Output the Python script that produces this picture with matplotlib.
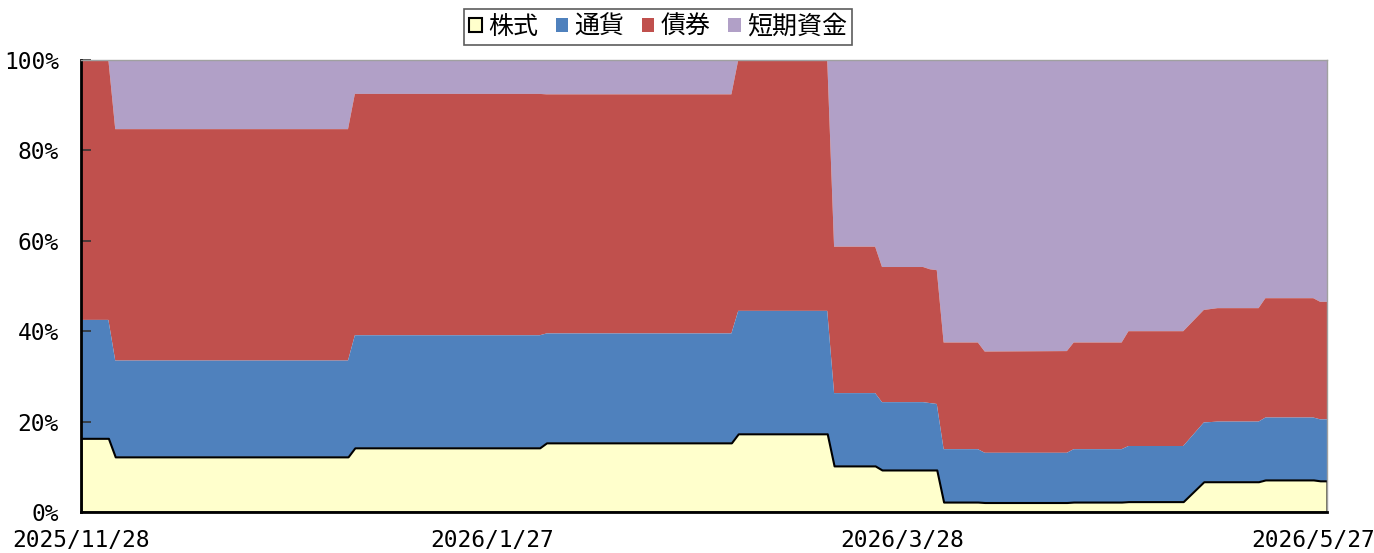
import matplotlib
matplotlib.use("Agg")
import matplotlib.pyplot as plt
from matplotlib.patches import Patch
import numpy as np

plt.rcParams['font.family'] = ['Noto Sans CJK JP', 'DejaVu Sans']

dates = ["2025-11-28", "2025-12-02", "2025-12-03", "2026-01-06", "2026-01-07",
         "2026-02-03", "2026-02-04", "2026-03-03", "2026-03-04", "2026-03-17",
         "2026-03-18", "2026-03-24", "2026-03-25", "2026-03-31", "2026-04-01",
         "2026-04-02", "2026-04-03", "2026-04-08", "2026-04-09", "2026-04-21",
         "2026-04-22", "2026-04-29", "2026-04-30", "2026-05-08", "2026-05-11",
         "2026-05-13", "2026-05-19", "2026-05-20", "2026-05-27", "2026-05-28",
         "2026-05-29"]

stock = [16.3, 16.3, 12.2, 12.2, 14.2, 14.2, 15.3, 15.3, 17.3, 17.3,
         10.2, 10.2, 9.3, 9.3, 9.3, 9.3, 2.2, 2.2, 2.1, 2.1,
         2.2, 2.2, 2.3, 2.3, 6.7, 6.7, 6.7, 7.1, 7.1, 6.9, 6.9]
currency = [26.2, 26.2, 21.3, 21.3, 24.9, 24.9, 24.2, 24.2, 27.2, 27.2,
            16.1, 16.1, 15.0, 15.0, 14.8, 14.6, 11.7, 11.7, 11.0, 11.0,
            11.7, 11.7, 12.3, 12.3, 13.1, 13.3, 13.3, 13.8, 13.8, 13.6, 13.6]
bond = [57.5, 57.5, 51.2, 51.2, 53.4, 53.4, 52.9, 52.9, 55.5, 55.5,
        32.4, 32.4, 29.9, 29.9, 29.6, 29.6, 23.6, 23.6, 22.4, 22.5,
        23.6, 23.6, 25.4, 25.4, 24.9, 25.1, 25.1, 26.4, 26.4, 26.0, 26.0]
cash = [0.0, 0.0, 15.3, 15.3, 7.5, 7.5, 7.6, 7.6, 0.0, 0.0,
        41.3, 41.3, 45.8, 45.8, 46.3, 46.5, 62.5, 62.5, 64.5, 64.4,
        62.5, 62.5, 60.0, 60.0, 55.3, 54.9, 54.9, 52.7, 52.7, 53.5, 53.5]

labels = ["株式", "通貨", "債券", "短期資金"]
colors = ["#FFFFCC", "#4F81BD", "#C0504D", "#B1A0C7"]
tick_dates = ["2025-11-28", "2026-01-27", "2026-03-28", "2026-05-27"]
tick_labels = ["2025/11/28", "2026/1/27", "2026/3/28", "2026/5/27"]

x = np.array(dates, dtype="datetime64[D]")
series = [np.array(stock), np.array(currency), np.array(bond), np.array(cash)]

fig = plt.figure(figsize=(13.74, 5.53), dpi=100)
ax = fig.add_axes([81/1374, 1-512/553, (1327-81)/1374, (512-60)/553])

base = np.zeros(len(x))
tops = []
for s in series:
    tops.append(base + s)
    base = base + s
bottoms = [np.zeros(len(x))] + tops[:-1]
for i in [3, 2, 1]:
    ax.fill_between(x, bottoms[i], tops[i], facecolor=colors[i], edgecolor='none',
                    linewidth=0, zorder=1)
ax.fill_between(x, bottoms[0], tops[0], facecolor=colors[0], edgecolor='black',
                linewidth=1.5, zorder=2)

ax.set_xlim(x[0], x[-1])
ax.set_ylim(0, 100)
tick_font = dict(family=['DejaVu Sans Mono'], size=16.5)
ax.set_yticks([0, 20, 40, 60, 80, 100])
ax.set_yticklabels([f"{v}%" for v in [0, 20, 40, 60, 80, 100]], fontdict=tick_font)
ax.set_xticks(np.array(tick_dates, dtype="datetime64[D]"))
ax.set_xticklabels(tick_labels, fontdict=tick_font)
ax.tick_params(axis='y', direction='in', length=7, width=1.2, color='#333333', pad=16)
ax.tick_params(axis='x', direction='in', length=7, width=1, color='#666666', pad=12)

for side in ['left', 'bottom']:
    ax.spines[side].set_color('black')
    ax.spines[side].set_linewidth(2)
for side in ['top', 'right']:
    ax.spines[side].set_color('#A0A0A0')
    ax.spines[side].set_linewidth(1)
for sp in ax.spines.values():
    sp.set_zorder(5)

handles = [Patch(facecolor=colors[0], edgecolor='black', linewidth=1.5),
           Patch(facecolor=colors[1], edgecolor='none'),
           Patch(facecolor=colors[2], edgecolor='none'),
           Patch(facecolor=colors[3], edgecolor='none')]
leg = fig.legend(handles, labels, loc='center', bbox_to_anchor=(658/1374, 1-27/553),
                 ncol=4, fontsize=18, frameon=True, fancybox=False,
                 handlelength=0.5, handleheight=0.5, handletextpad=0.25,
                 columnspacing=0.7, borderpad=0.2, edgecolor='#333333')
leg.get_frame().set_linewidth(1.2)

fig.savefig("out.png", dpi=100)
